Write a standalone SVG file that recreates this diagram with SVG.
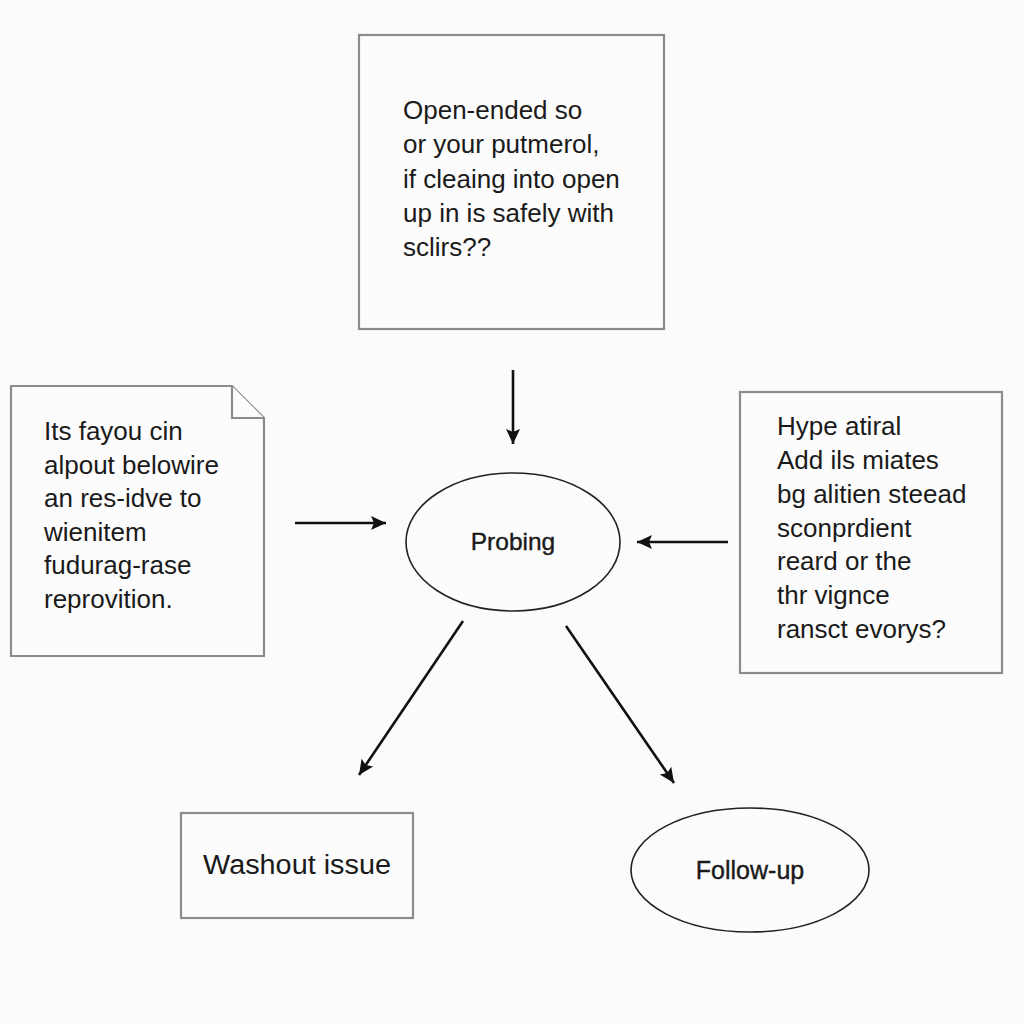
<svg xmlns="http://www.w3.org/2000/svg" width="1024" height="1024" viewBox="0 0 1024 1024">
<defs>
<style>
.box{fill:#fcfcfc;stroke:#8c8c8c;stroke-width:2.2}
.ell{fill:#fcfcfc;stroke:#222;stroke-width:1.6}
.t{font-family:"Liberation Sans",Arial,sans-serif;fill:#1a1a1a}
.conn{stroke:#111;stroke-width:2.6;fill:none}
</style>
<marker id="ah" markerUnits="userSpaceOnUse" markerWidth="18" markerHeight="16" refX="15" refY="8" orient="auto">
<path d="M0,1 L15,8 L0,15 L3,8 Z" fill="#111"/>
</marker>
</defs>
<rect width="1024" height="1024" fill="#fbfbfb"/>
<g id="top-box">
<rect class="box" x="359" y="35" width="305" height="294"/>
<text class="t" font-size="26">
<tspan x="403" y="119">Open-ended so</tspan>
<tspan x="403" y="153">or your putmerol,</tspan>
<tspan x="403" y="188">if cleaing into open</tspan>
<tspan x="403" y="222">up in is safely with</tspan>
<tspan x="403" y="256">sclirs??</tspan>
</text>
</g>
<g id="left-note">
<path class="box" d="M11,386 L232,386 L264,418 L264,656 L11,656 Z"/>
<path class="box" d="M232,386 L232,418 L264,418" fill="none"/>
<text class="t" font-size="26">
<tspan x="44" y="440">Its fayou cin</tspan>
<tspan x="44" y="474">alpout belowire</tspan>
<tspan x="44" y="507">an res-idve to</tspan>
<tspan x="44" y="541">wienitem</tspan>
<tspan x="44" y="574">fudurag-rase</tspan>
<tspan x="44" y="608">reprovition.</tspan>
</text>
</g>
<g id="right-box">
<rect class="box" x="740" y="392" width="262" height="281"/>
<text class="t" font-size="26">
<tspan x="777" y="435">Hype atiral</tspan>
<tspan x="777" y="469">Add ils miates</tspan>
<tspan x="777" y="503">bg alitien steead</tspan>
<tspan x="777" y="537">sconprdient</tspan>
<tspan x="777" y="570">reard or the</tspan>
<tspan x="777" y="604">thr vignce</tspan>
<tspan x="777" y="638">ransct evorys?</tspan>
</text>
</g>
<g id="probing">
<ellipse class="ell" cx="513" cy="542" rx="107" ry="69"/>
<text class="t" font-size="24.5" x="513" y="550" text-anchor="middle" stroke="#1a1a1a" stroke-width="0.4">Probing</text>
</g>
<g id="washout">
<rect class="box" x="181" y="813" width="232" height="105"/>
<text class="t" font-size="27" x="203" y="874" textLength="188" lengthAdjust="spacingAndGlyphs">Washout issue</text>
</g>
<g id="follow-up">
<ellipse class="ell" cx="750" cy="870" rx="119" ry="62"/>
<text class="t" font-size="25" x="750" y="879" text-anchor="middle" stroke="#1a1a1a" stroke-width="0.4">Follow-up</text>
</g>
<g id="connectors">
<line class="conn" x1="513" y1="370" x2="513" y2="444" marker-end="url(#ah)"/>
<line class="conn" x1="295" y1="523" x2="386" y2="523" marker-end="url(#ah)"/>
<line class="conn" x1="728" y1="542" x2="637" y2="542" marker-end="url(#ah)"/>
<line class="conn" x1="463" y1="621" x2="359" y2="775" marker-end="url(#ah)"/>
<line class="conn" x1="566" y1="626" x2="674" y2="783" marker-end="url(#ah)"/>
</g>
</svg>
